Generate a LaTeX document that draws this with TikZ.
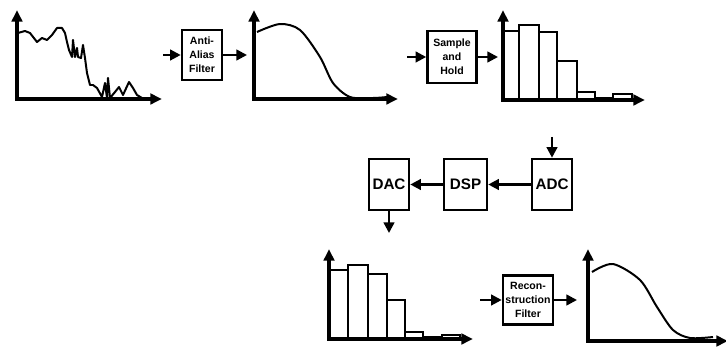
\documentclass[tikz,border=0pt]{standalone}
\usepackage{fontspec}
\setmainfont{Liberation Sans}
\usepackage{tikz}
\usetikzlibrary{arrows.meta, positioning}

\begin{document}
\begin{tikzpicture}[
  x=0.03cm, y=-0.03cm,
  box/.style={rectangle, draw=black, line width=2.2pt, fill=white,
              inner sep=1pt, align=center,
              font=\bfseries\fontsize{9}{12}\selectfont},
  unit/.style={box, minimum width=1.2cm, minimum height=1.53cm,
               font=\bfseries\fontsize{13}{15}\selectfont},
  arrow/.style={-{Triangle[length=9pt,width=9pt]}, line width=2pt},
  axis/.style={{Triangle[length=10pt,width=9pt]}-{Triangle[length=10pt,width=9pt]},
               line width=2.6pt},
  signal/.style={line width=1.7pt, line join=round},
  bar/.style={line width=1.9pt}
]
\useasboundingbox (0,0) rectangle (726,347);

% Input signal
\draw[axis] (17,10) |- (162,99);
\draw[signal] plot coordinates {(18,33) (25,31) (30,33) (37,42) (42,38)
  (47,40) (52,35) (57,28) (62,28) (65,33) (67,42) (69,50) (72,57) (73,40)
  (75,57) (77,48) (78,57) (81,58) (83,45) (85,58) (87,73) (90,85) (93,85)
  (97,88) (102,97) (105,83) (107,98) (108,78) (110,98) (115,92) (119,87)
  (123,95) (129,82) (133,88) (137,95) (142,98) (147,99)};

% Anti-alias filter
\node[box, minimum width=1.2cm, minimum height=1.5cm] (aaf) at (202,55)
      {Anti-\\Alias\\Filter};
\coordinate (aafin) at (163,55);
\coordinate (aafout) at (247,55);

% Filtered signal
\draw[axis] (254,10) |- (398,99);
\draw[signal] plot[smooth] coordinates {(257,32) (280,24) (300,30)
  (320,57) (333,83) (350,97) (373,98) (387,97)};

% Sample and hold
\node[box, minimum width=1.47cm, minimum height=1.56cm] (sh) at (452,57)
      {Sample\\and\\Hold};
\coordinate (shin) at (407,57);
\coordinate (shout) at (498,57);

% Sampled signal
\foreach \l/\r/\t in {503/519/31, 519/539/25, 539/557/32, 557/577/61,
                      577/595/92, 595/613/98, 613/632/94}
  \draw[bar] (\l,100) rectangle (\r,\t);
\draw[axis] (503,10) |- (645,100);

% Converters
\node[unit] (adc) at (552,184.5) {ADC};
\node[unit, minimum width=1.29cm] (dsp) at (465.5,184.5) {DSP};
\node[unit] (dac) at (389,184.5) {DAC};
\coordinate (adcin) at (552,137);
\coordinate (dacout) at (389,233);

% Output steps
\foreach \l/\r/\t in {329/348/270, 348/368/265, 368/387/274, 387/405/300,
                      405/423/332, 423/442/337, 442/460/335}
  \draw[bar] (\l,339) rectangle (\r,\t);
\draw[axis] (329,249) |- (473,339);

% Reconstruction filter
\node[box, minimum width=1.5cm, minimum height=1.47cm] (rec) at (528,300)
      {Recon-\\struction\\Filter};
\coordinate (recin) at (480,300);
\coordinate (recout) at (577,300);

% Output signal
\draw[axis] (588,249) |- (728,341);
\draw[signal] plot[smooth] coordinates {(592,272) (613,264) (640,280)
  (657,307) (673,330) (690,338) (713,337)};

% Arrows
\draw[arrow] (aafin) -- (aaf.west);
\draw[arrow] (aaf.east) -- (aafout);
\draw[arrow] (shin) -- (sh.west);
\draw[arrow] (sh.east) -- (shout);
\draw[arrow] (adcin) -- (adc.north);
\draw[arrow] (adc.west) -- (dsp.east);
\draw[arrow] (dsp.west) -- (dac.east);
\draw[arrow] (dac.south) -- (dacout);
\draw[arrow] (recin) -- (rec.west);
\draw[arrow] (rec.east) -- (recout);
\end{tikzpicture}
\end{document}
